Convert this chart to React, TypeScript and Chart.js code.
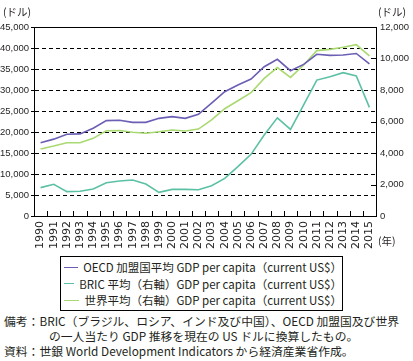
import React, { useEffect, useRef } from "react";
import { Chart, registerables } from "chart.js";
Chart.register(...registerables);

const years = [
  "1990", "1991", "1992", "1993", "1994", "1995", "1996", "1997", "1998", "1999",
  "2000", "2001", "2002", "2003", "2004", "2005", "2006", "2007", "2008", "2009",
  "2010", "2011", "2012", "2013", "2014", "2015",
];

// OECD average GDP per capita (left axis, US$)
const oecd = [
  17450, 18300, 19450, 19550, 20900, 22700, 22800, 22300, 22300, 23250,
  23650, 23250, 24200, 26900, 29600, 31200, 32600, 35550, 37300, 34600,
  36100, 38500, 38250, 38350, 38700, 36200,
];

// BRIC average GDP per capita (right axis, US$)
const bric = [
  1800, 2010, 1545, 1570, 1715, 2115, 2220, 2285, 2030, 1500,
  1690, 1690, 1670, 1925, 2390, 3130, 3915, 5140, 6230, 5500,
  7050, 8630, 8840, 9100, 8890, 6900,
];

// World average GDP per capita (right axis, US$)
const world = [
  4250, 4440, 4650, 4650, 4930, 5415, 5430, 5320, 5250, 5350,
  5460, 5400, 5520, 6100, 6810, 7320, 7830, 8740, 9420, 8800,
  9590, 10500, 10580, 10710, 10880, 10160,
];

const leftMin = 0;
const leftMax = 45000;
const leftStep = 5000;
const rightMin = 0;
const rightMax = 12000;
const rightStep = 2000;

const seriesLabels = [
  "OECD 加盟国平均 GDP per capita（current US$）",
  "BRIC 平均（右軸）GDP per capita（current US$）",
  "世界平均（右軸）GDP per capita（current US$）",
];
const seriesColors = ["#6a5fb4", "#5cc1a4", "#a9d971"];

const unitLeft = "(ドル)";
const unitRight = "(ドル)";
const unitX = "(年)";
const noteLine1 = "備考：BRIC（ブラジル、ロシア、インド及び中国）、OECD 加盟国及び世界";
const noteLine2 = "の一人当たり GDP 推移を現在の US ドルに換算したもの。";
const sourceLine = "資料：世銀 World Development Indicators から経済産業省作成。";

const TICK_FONT = "'Liberation Sans', Arial, sans-serif";
const JP_FONT = "'Noto Sans CJK JP', 'Noto Sans', sans-serif";

const framePlugin = {
  id: "frameAndInnerTicks",
  afterDraw(chart: any) {
    const { ctx, chartArea: a, scales } = chart;
    ctx.save();
    ctx.strokeStyle = "#000";
    ctx.lineWidth = 1;
    ctx.setLineDash([]);
    ctx.beginPath();
    ctx.moveTo(a.left, Math.round(a.top) + 0.5);
    ctx.lineTo(a.right, Math.round(a.top) + 0.5);
    const x = scales.x;
    for (let i = 1; i < years.length; i++) {
      const px = Math.round((x.getPixelForValue(i - 1) + x.getPixelForValue(i)) / 2) + 0.5;
      ctx.moveTo(px, a.bottom);
      ctx.lineTo(px, a.bottom - 5);
    }
    const y1 = scales.y1;
    for (let v = rightMin + rightStep; v < rightMax; v += rightStep) {
      const py = Math.round(y1.getPixelForValue(v)) + 0.5;
      ctx.moveTo(a.right, py);
      ctx.lineTo(a.right - 5, py);
    }
    ctx.stroke();
    ctx.restore();
  },
};

export default function App() {
  const ref = useRef<HTMLCanvasElement | null>(null);

  useEffect(() => {
    if (!ref.current) return;
    const chart = new Chart(ref.current, {
      type: "line",
      data: {
        labels: years,
        datasets: [
          {
            label: seriesLabels[0],
            data: oecd,
            borderColor: seriesColors[0],
            backgroundColor: seriesColors[0],
            borderWidth: 1.6,
            pointRadius: 0,
            tension: 0,
            yAxisID: "y",
          },
          {
            label: seriesLabels[1],
            data: bric,
            borderColor: seriesColors[1],
            backgroundColor: seriesColors[1],
            borderWidth: 1.6,
            pointRadius: 0,
            tension: 0,
            yAxisID: "y1",
          },
          {
            label: seriesLabels[2],
            data: world,
            borderColor: seriesColors[2],
            backgroundColor: seriesColors[2],
            borderWidth: 1.6,
            pointRadius: 0,
            tension: 0,
            yAxisID: "y1",
          },
        ],
      },
      options: {
        responsive: false,
        animation: false,
        devicePixelRatio: 1,
        layout: { padding: { top: 27, left: 0, right: 0, bottom: 0 } },
        plugins: {
          legend: { display: false },
          tooltip: { enabled: false },
        },
        scales: {
          x: {
            type: "category",
            offset: true,
            grid: { display: false, drawTicks: false, offset: true },
            border: { display: true, color: "#000", width: 1 },
            ticks: {
              autoSkip: false,
              maxRotation: 90,
              minRotation: 90,
              padding: 5,
              color: "#231f20",
              font: { family: "'DejaVu Sans', sans-serif", size: 11 },
            },
            afterFit: (s: any) => {
              s.height = 40;
            },
          },
          y: {
            position: "left",
            min: leftMin,
            max: leftMax,
            grid: {
              color: "#000",
              lineWidth: 1,
              drawTicks: true,
              tickLength: 3,
            },
            border: { display: true, color: "#000", width: 1, dash: [4, 3] },
            ticks: {
              stepSize: leftStep,
              padding: 2,
              color: "#231f20",
              font: { family: TICK_FONT, size: 9.5 },
            },
            afterFit: (s: any) => {
              s.width = 34;
            },
          },
          y1: {
            position: "right",
            min: rightMin,
            max: rightMax,
            grid: { display: false, drawOnChartArea: false, drawTicks: false, tickLength: 0 },
            border: { display: true, color: "#000", width: 1 },
            ticks: {
              stepSize: rightStep,
              padding: 4,
              color: "#231f20",
              font: { family: TICK_FONT, size: 9.5 },
            },
            afterFit: (s: any) => {
              s.width = 37;
            },
          },
        },
      },
      plugins: [framePlugin],
    });
    return () => chart.destroy();
  }, []);

  const abs = (style: React.CSSProperties): React.CSSProperties => ({
    position: "absolute",
    whiteSpace: "nowrap",
    ...style,
  });

  return (
    <div
      style={{
        position: "absolute",
        left: 0,
        top: 0,
        width: 413,
        height: 361,
        background: "#fff",
        color: "#231f20",
        fontFamily: JP_FONT,
        overflow: "hidden",
      }}
    >
      <canvas ref={ref} width={413} height={256} style={{ position: "absolute", left: 0, top: 0 }} />
      <div style={abs({ left: 3, top: 5, fontSize: 10.5, lineHeight: "14px" })}>{unitLeft}</div>
      <div style={abs({ left: 378, top: 5, fontSize: 10.5, lineHeight: "14px" })}>{unitRight}</div>
      <div style={abs({ left: 378, top: 234, fontSize: 10.5, lineHeight: "14px" })}>{unitX}</div>

      <div
        style={abs({
          left: 60,
          top: 256,
          width: 281,
          height: 51,
          border: "1px solid #000",
          paddingTop: 2,
        })}
      >
        {seriesLabels.map((lab, i) => (
          <div key={i} style={{ display: "flex", alignItems: "center", height: 16.5 }}>
            <div style={{ width: 19, height: 0, borderTop: `1.5px solid ${seriesColors[i]}`, marginLeft: 3, marginRight: 5 }} />
            <span style={{ fontSize: 11.5, lineHeight: "16px" }}>{lab}</span>
          </div>
        ))}
      </div>

      <div style={abs({ left: 4, top: 313, fontSize: 11.8, lineHeight: "15px" })}>{noteLine1}</div>
      <div style={abs({ left: 49, top: 328, fontSize: 11.8, lineHeight: "15px" })}>{noteLine2}</div>
      <div style={abs({ left: 4, top: 343, fontSize: 11.8, lineHeight: "15px" })}>{sourceLine}</div>
    </div>
  );
}
